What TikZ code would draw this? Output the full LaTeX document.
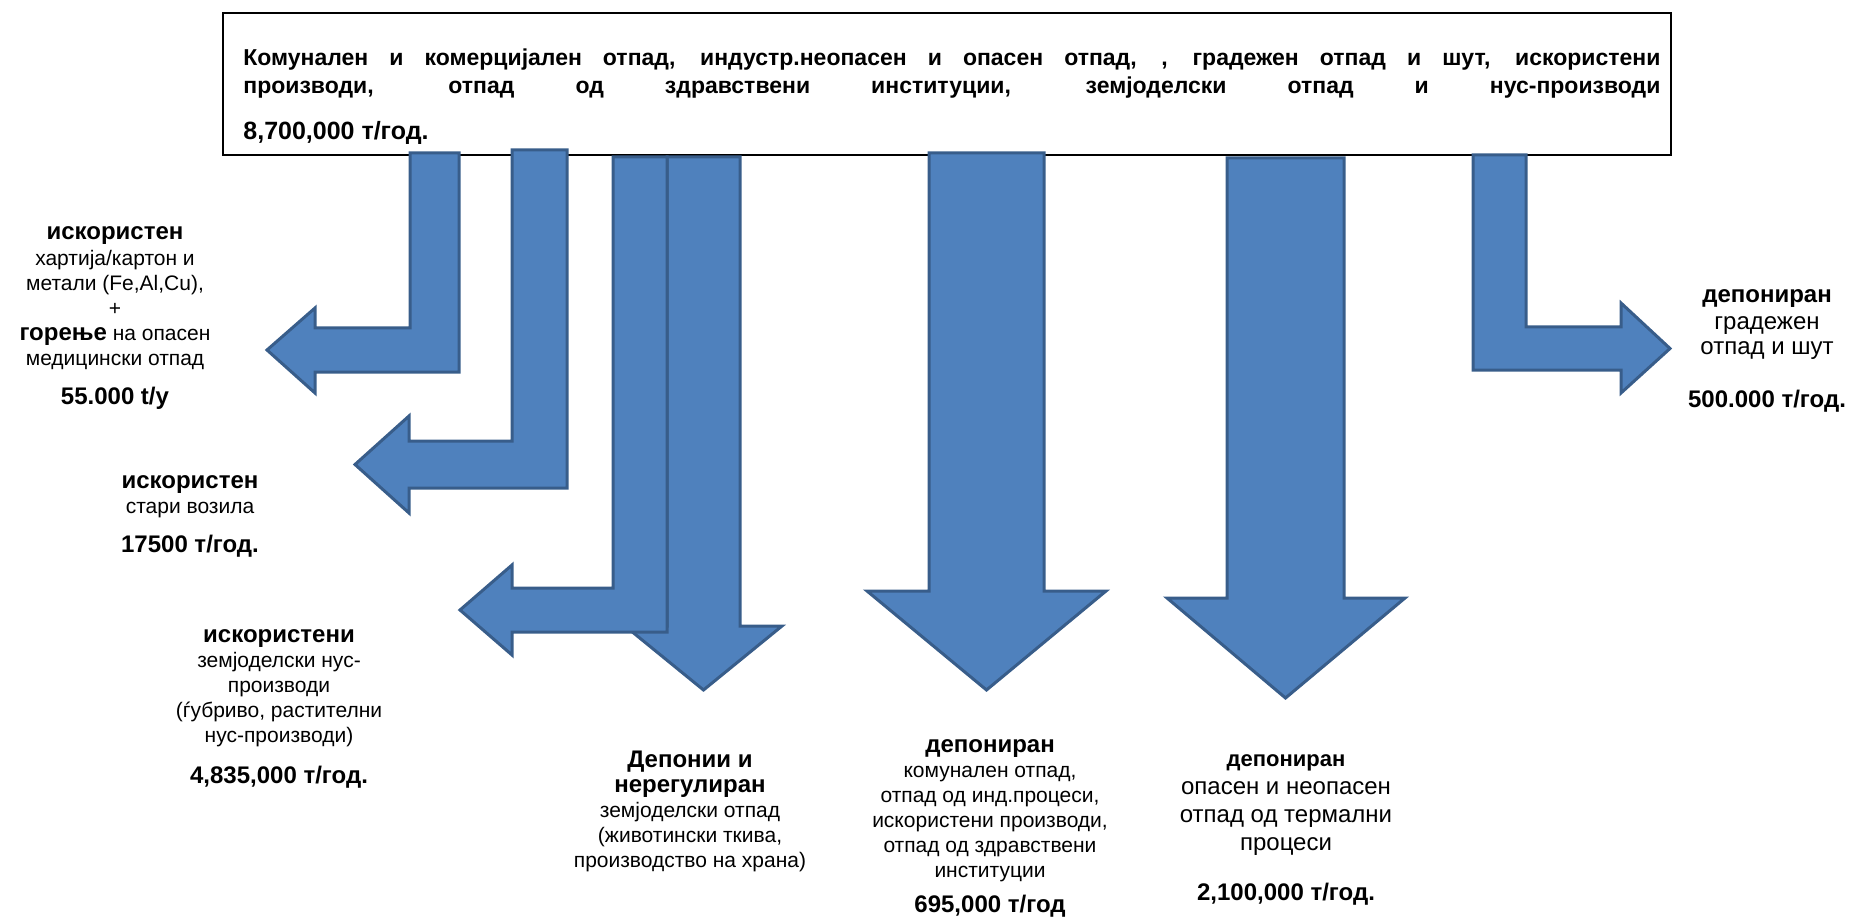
\documentclass[tikz,border=0pt]{standalone}
\usepackage{fontspec}
\setmainfont{Liberation Sans}
\definecolor{arrfill}{HTML}{4F81BD}
\definecolor{arrline}{HTML}{385D8A}
\tikzset{
  blockarr/.style={fill=arrfill, draw=arrline, line width=1.5pt, line join=miter},
  lbl/.style={align=center, inner sep=0pt, anchor=base, font=\fontsize{10.5}{12.5}\selectfont},
}
\newcommand{\hd}[1]{{\bfseries\fontsize{12}{12.5}\selectfont #1}}
\begin{document}
\begin{tikzpicture}[x=0.5pt, y=-0.5pt]
  \useasboundingbox (0,0) rectangle (1850,919);
  % source box
  \node[draw, line width=1pt, inner sep=0pt, anchor=north west,
        minimum width=724pt, minimum height=71pt] (src) at (222,12) {};
  \node[anchor=base west, inner sep=0pt, align=left,
        font=\bfseries\fontsize{11.5}{14}\selectfont] (srctxt) at (243,140)
    {\makebox[708.5pt][s]{Комунален и комерцијален отпад, индустр.неопасен и опасен отпад, , градежен отпад и шут, искористени}\\
     \makebox[708.5pt][s]{производи, отпад од здравствени институции, земјоделски отпад и нус-производи}\\[9pt]
     {\fontsize{12.5}{14}\selectfont 8,700,000 т/год.}};
  % straight arrows down
  \foreach \xa/\xb/\yt/\yh/\hl/\hr/\yp in {667/740/157/626/625/782/690,
      929/1044/153/591/867/1106/690, 1227/1344/158/598/1167/1405/698}
    \draw[blockarr] (\xa,\yt) -- (\xb,\yt) -- (\xb,\yh) -- (\hr,\yh)
      -- ({(\xa+\xb)/2},\yp) -- (\hl,\yh) -- (\xa,\yh) -- cycle;
  % bent arrows to the left
  \foreach \xa/\xb/\yt/\yc/\yd/\hx/\ha/\hb/\tip in {410/459/153/328/372/315/308/393/267,
      512/567/150/441/488/409/416/513/355, 613/667/157/588/632/512/565/655/460}
    \draw[blockarr] (\xa,\yt) -- (\xb,\yt) -- (\xb,\yd) -- (\hx,\yd) -- (\hx,\hb)
      -- (\tip,{(\yc+\yd)/2}) -- (\hx,\ha) -- (\hx,\yc) -- (\xa,\yc) -- cycle;
  % bent arrow to the right
  \draw[blockarr] (1473,155) -- (1526,155) -- (1526,327) -- (1621,327) -- (1621,303)
    -- (1670,348.5) -- (1621,393) -- (1621,370) -- (1473,370) -- cycle;
  % labels (anchored at the baseline of their last line)
  \node[lbl] (paper) at (115,404) {\hd{искористен}\\ хартија/картон и\\ метали (Fe,Al,Cu),\\ +\\
    \hd{горење} на опасен\\ медицински отпад\\[7pt] \hd{55.000 t/y}};
  \node[lbl] (cars) at (190,552) {\hd{искористен}\\ стари возила\\[7pt] \hd{17500 т/год.}};
  \node[lbl] (agri) at (279,783) {\hd{искористени}\\ земјоделски нус-\\ производи\\
    (ѓубриво, растителни\\ нус-производи)\\[8pt] \hd{4,835,000 т/год.}};
  \node[lbl] (dumps) at (690,867) {\hd{Депонии и}\\ \hd{нерегулиран}\\ земјоделски отпад\\
    (животински ткива,\\ производство на храна)};
  \node[lbl] (landfill) at (990,912) {\hd{депониран}\\ комунален отпад,\\ отпад од инд.процеси,\\
    искористени производи,\\ отпад од здравствени\\ институции\\[5pt] \hd{695,000 т/год}};
  \node[lbl, font=\fontsize{12}{14}\selectfont] (thermal) at (1286,900)
    {{\bfseries\fontsize{11}{14}\selectfont депониран}\\ опасен и неопасен\\ отпад од термални\\
    процеси\\[11pt] \hd{2,100,000 т/год.}};
  \node[lbl, font=\fontsize{12}{13}\selectfont] (rubble) at (1767,407)
    {\hd{депониран}\\ градежен\\ отпад и шут\\[13pt] \hd{500.000 т/год.}};
\end{tikzpicture}
\end{document}
